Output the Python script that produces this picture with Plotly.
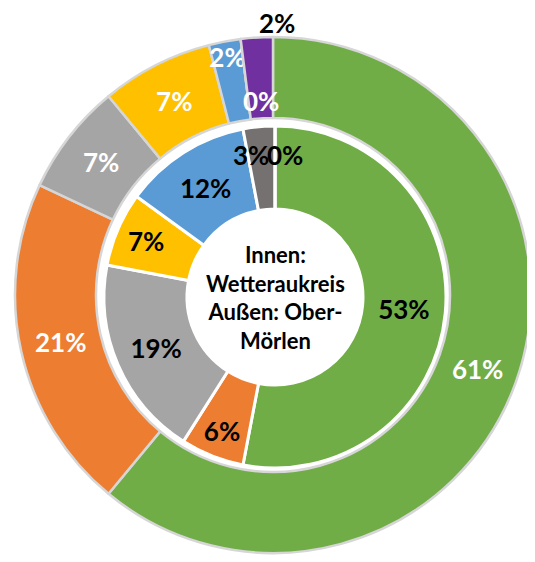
import math
import plotly.graph_objects as go

categories = ["A", "B", "C", "D", "E", "F", "G"]
inner_values = [53, 6, 19, 7, 12, 3, 0]   # Innen: Wetteraukreis
outer_values = [61, 21, 7, 7, 2, 0, 2]    # Außen: Ober-Mörlen
colors = ["#70AD47", "#ED7D31", "#A5A5A5", "#FFC000", "#5B9BD5", "#767171", "#7030A0"]
center_text = "Innen:<br>Wetteraukreis<br>Außen: Ober-<br>Mörlen"

# the page body has an 8px margin, so the figure is drawn at (8, 8)
OFF = 8
W, H = 535 - OFF, 562 - OFF
# ring geometry (figure pixels)
ocx, ocy, r_out, r_out_in = 273 - OFF, 295 - OFF, 258, 177
icx, icy, r_in, r_hole = 275 - OFF, 297 - OFF, 171, 88

def dom(cx, cy, r):
    return dict(x=[max(0, (cx - r) / W), min(1, (cx + r) / W)],
                y=[max(0, (H - cy - r) / H), min(1, (H - cy + r) / H)])

FONT = "Lato"
FS = 26

# tiny slices whose labels are placed separately, as in the reference
outer_special = {5: dict(r=196, frac=0.5, dx=13, color="white"),
                 6: dict(r=273, frac=0.5, dx=21, color="black")}
inner_special = {5: dict(r=143, frac=0.5, dx=-11, color="black"),
                 6: dict(r=142, frac=0.5, dx=10, color="black")}

def pct_text(values, special):
    tot = sum(values)
    return ["" if i in special else f"{round(100 * v / tot)}%" for i, v in enumerate(values)]

fig = go.Figure()
fig.add_trace(go.Pie(
    labels=categories, values=outer_values, sort=False, direction="clockwise", rotation=0,
    hole=r_out_in / r_out, domain=dom(ocx, ocy, r_out),
    marker=dict(colors=colors, line=dict(color="#D6D6D6", width=2.5)),
    text=pct_text(outer_values, outer_special), textinfo="text", textposition="inside",
    insidetextorientation="horizontal",
    insidetextfont=dict(color="white", size=FS, family=FONT, weight="bold"),
    showlegend=False, hoverinfo="skip",
))
fig.add_trace(go.Pie(
    labels=categories, values=inner_values, sort=False, direction="clockwise", rotation=0,
    hole=r_hole / r_in, domain=dom(icx, icy, r_in),
    marker=dict(colors=colors, line=dict(color="white", width=3)),
    text=pct_text(inner_values, inner_special), textinfo="text", textposition="inside",
    insidetextorientation="horizontal",
    insidetextfont=dict(color="black", size=FS, family=FONT, weight="bold"),
    showlegend=False, hoverinfo="skip",
))

def add_slice_label(values, idx, cx, cy, spec):
    tot = sum(values)
    cum = sum(values[:idx]) + values[idx] * spec["frac"]
    th = 2 * math.pi * cum / tot
    x = cx + spec["r"] * math.sin(th)
    y = cy - spec["r"] * math.cos(th)
    fig.add_annotation(
        text=f"{round(100 * values[idx] / tot)}%", x=x / W, y=(H - y) / H,
        xref="paper", yref="paper", xanchor="center", yanchor="middle",
        showarrow=False, xshift=spec["dx"],
        font=dict(size=FS, family=FONT, color=spec["color"], weight="bold"),
    )

for i, s in outer_special.items():
    add_slice_label(outer_values, i, ocx, ocy, s)
for i, s in inner_special.items():
    add_slice_label(inner_values, i, icx, icy, s)

fig.add_annotation(
    text=center_text, x=icx / W, y=(H - icy) / H, xref="paper", yref="paper",
    xanchor="center", yanchor="middle", showarrow=False, yshift=0,
    font=dict(size=22, family=FONT, color="black", weight="bold"),
)
fig.update_layout(
    width=W, height=H, margin=dict(l=0, r=0, t=0, b=0),
    paper_bgcolor="white", plot_bgcolor="white",
    uniformtext=dict(minsize=FS, mode="show"),
)
fig.write_html("out.html")
